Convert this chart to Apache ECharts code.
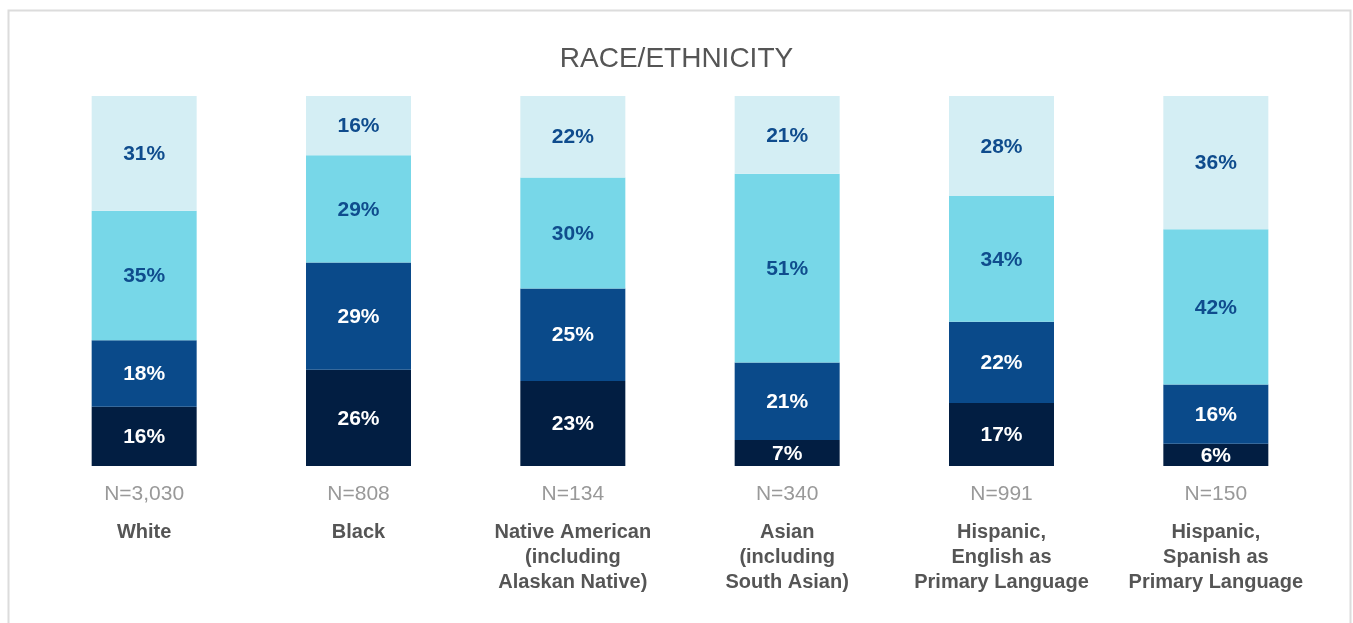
<!DOCTYPE html>
<html>
<head>
<meta charset="utf-8">
<title>Race/Ethnicity</title>
<script src="https://cdn.jsdelivr.net/npm/echarts@6/dist/echarts.min.js"></script>
<style>
  html, body { margin: 0; padding: 0; background: #fff; }
  #chart { width: 1353px; height: 623px; }
</style>
</head>
<body>
<div id="chart"></div>
<script>
// categories and sample sizes
var categories = [
  'White',
  'Black',
  'Native American\n(including\nAlaskan Native)',
  'Asian\n(including\nSouth Asian)',
  'Hispanic,\nEnglish as\nPrimary Language',
  'Hispanic,\nSpanish as\nPrimary Language'
]
var sampleSizes = ['3,030', '808', '134', '340', '991', '150']

// stacked shares, bottom -> top
var seg1 = [16, 26, 23, 7, 17, 6]
var seg2 = [18, 29, 25, 21, 22, 16]
var seg3 = [35, 29, 30, 51, 34, 42]
var seg4 = [31, 16, 22, 21, 28, 36]

var colors = ['#021e42', '#0a4a8a', '#77d7e8', '#d4eef4']
var labelColors = ['#ffffff', '#ffffff', '#0f4c8d', '#0f4c8d']

var myChart = echarts.init(document.getElementById('chart'))

function makeSeries(name, data, i) {
  return {
    name: name,
    type: 'bar',
    stack: 'total',
    barWidth: 105,
    data: data,
    itemStyle: { color: colors[i] },
    label: {
      show: true,
      position: 'inside',
      offset: [0, 1],
      formatter: '{c}%',
      color: labelColors[i],
      fontFamily: 'Liberation Sans, Arial, sans-serif',
      fontSize: 21,
      fontWeight: 'bold'
    }
  }
}

var option = {
  animation: false,
  backgroundColor: '#fff',
  title: {
    text: 'RACE/ETHNICITY',
    left: 'center',
    top: 40,
    textStyle: {
      fontFamily: 'Liberation Sans, Arial, sans-serif',
      fontSize: 28,
      fontWeight: 'normal',
      color: '#555'
    }
  },
  graphic: [
    {
      type: 'rect',
      shape: { x: 8.5, y: 10.5, width: 1342, height: 640 },
      style: { fill: 'none', stroke: '#dcdcdc', lineWidth: 2 },
      silent: true
    }
  ],
  grid: {
    top: 96,
    bottom: 157,
    left: 37,
    right: 30
  },
  xAxis: {
    type: 'category',
    data: categories,
    axisLine: { show: false },
    axisTick: { show: false },
    axisLabel: {
      interval: 0,
      margin: 3,
      formatter: function (value, idx) {
        var lines = value.split('\n').map(function (s) { return '{c|' + s + '}' })
        return '{n|N=' + sampleSizes[idx] + '}\n' + lines.join('\n')
      },
      rich: {
        n: {
          fontFamily: 'Liberation Sans, Arial, sans-serif',
          fontSize: 21,
          color: '#999',
          lineHeight: 51
        },
        c: {
          fontFamily: 'Liberation Sans, Arial, sans-serif',
          fontSize: 20,
          fontWeight: 'bold',
          color: '#555',
          lineHeight: 25
        }
      }
    }
  },
  yAxis: {
    type: 'value',
    min: 0,
    max: 100,
    show: false,
    splitLine: { show: false }
  },
  series: [
    makeSeries('Segment 1', seg1, 0),
    makeSeries('Segment 2', seg2, 1),
    makeSeries('Segment 3', seg3, 2),
    makeSeries('Segment 4', seg4, 3)
  ]
}

option && myChart.setOption(option)
</script>
</body>
</html>
